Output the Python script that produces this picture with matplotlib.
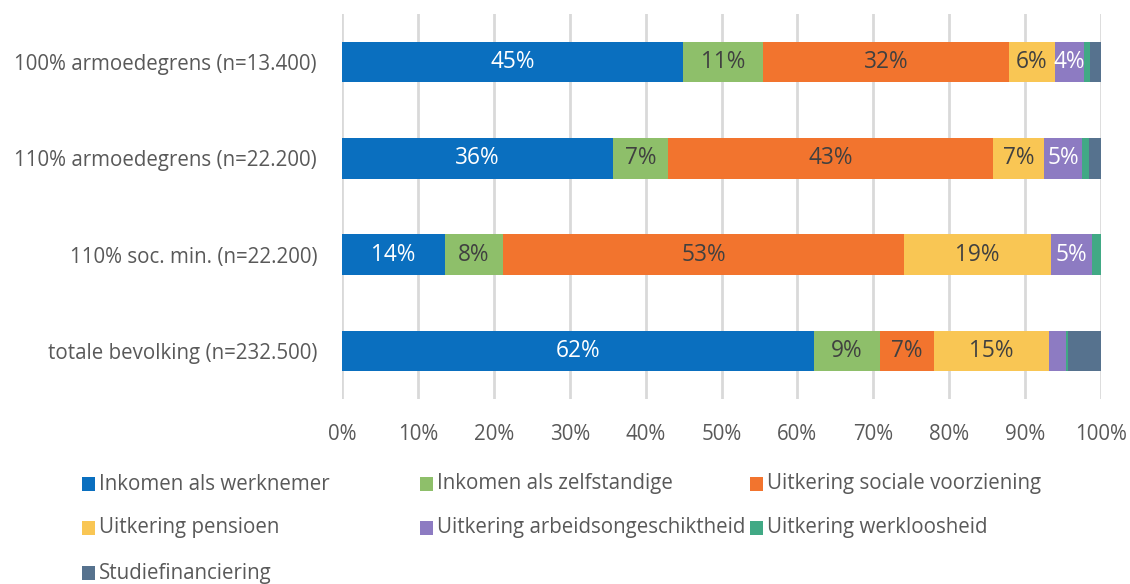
import matplotlib
matplotlib.use("Agg")
import matplotlib.pyplot as plt
from matplotlib.patches import Rectangle
import numpy as np

categories = ["100% armoedegrens (n=13.400)", "110% armoedegrens (n=22.200)",
              "110% soc. min. (n=22.200)", "totale bevolking (n=232.500)"]
series = ["Inkomen als werknemer", "Inkomen als zelfstandige", "Uitkering sociale voorziening",
          "Uitkering pensioen", "Uitkering arbeidsongeschiktheid", "Uitkering werkloosheid",
          "Studiefinanciering"]
werknemer = [44.9, 35.7, 13.6, 62.2]
zelfstandige = [10.6, 7.3, 7.6, 8.7]
sociale = [32.4, 42.8, 52.9, 7.1]
pensioen = [6.0, 6.7, 19.3, 15.2]
arbeidsong = [3.8, 5.0, 5.4, 2.2]
werkloosheid = [0.8, 0.9, 1.2, 0.3]
studiefin = [1.5, 1.6, 0.0, 4.3]
values = [werknemer, zelfstandige, sociale, pensioen, arbeidsong, werkloosheid, studiefin]
colors = ["#0A6FBF", "#8EBF6A", "#F2742E", "#F9C654", "#8D7BC2", "#41A985", "#56728E"]
label_colors = ["white", "#404040", "#404040", "#404040", "white", None, None]
xticks = [0, 10, 20, 30, 40, 50, 60, 70, 80, 90, 100]

plt.rcParams['font.family'] = ['Open Sans', 'DejaVu Sans']
W, H = 1130, 584
fs = 14.8
fig = plt.figure(figsize=(W/100, H/100), dpi=100)
ax = fig.add_axes([342/W, 1-399/H, (1101-342)/W, (399-14)/H])

y = np.arange(len(categories))
left = np.zeros(len(categories))
for vals, col, lc in zip(values, colors, label_colors):
    vals = np.array(vals)
    bars = ax.barh(y, vals, left=left, height=0.42, color=col, zorder=3)
    if lc is not None:
        for b, v in zip(bars, vals):
            if v >= 3:
                ax.text(b.get_x() + b.get_width()/2, b.get_y() + b.get_height()/2,
                        f"{round(v):d}%", ha="center", va="center", color=lc, fontsize=16.3, zorder=4)
    left += vals

ax.set_ylim(len(categories)-0.5, -0.5)
ax.set_xlim(0, 100)
ax.set_yticks(y)
ax.set_yticklabels(categories, fontsize=fs, color="#595959")
ax.set_xticks(xticks)
ax.set_xticklabels([f"{t}%" for t in xticks], fontsize=fs, color="#595959")
ax.tick_params(axis="both", length=0)
ax.tick_params(axis="y", pad=18)
ax.tick_params(axis="x", pad=18)
ax.grid(axis="x", color="#D9D9D9", linewidth=2, zorder=0)
for s in ax.spines.values():
    s.set_visible(False)

# legend
pos = [(82, 484), (420, 484), (750, 484), (82, 528), (420, 528), (750, 528), (82, 573)]
for (px, py), name, col in zip(pos, series, colors):
    fig.patches.append(Rectangle((px/W, 1-(py+7)/H), 13/W, 14/H, transform=fig.transFigure,
                                 facecolor=col, edgecolor="none"))
    fig.text((px+17)/W, 1-py/H, name, fontsize=fs, color="#595959", va="center", ha="left")

fig.savefig("out.png", dpi=100)
